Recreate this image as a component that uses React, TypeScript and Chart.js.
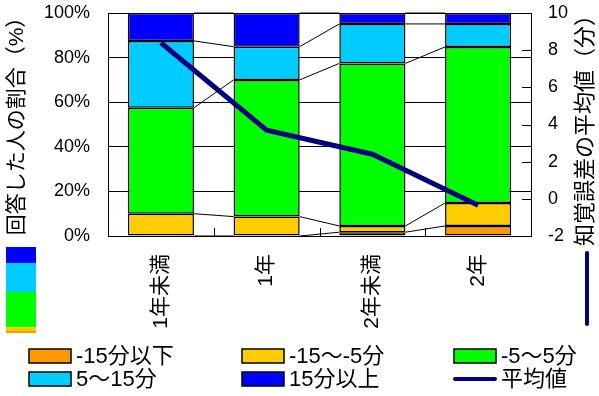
import React, { useEffect, useRef } from "react";
import { Chart, registerables } from "chart.js";

Chart.register(...registerables);

const categories = ["1年未満", "1年", "2年未満", "2年"];
const seriesNames = ["-15分以下", "-15〜-5分", "-5〜5分", "5〜15分", "15分以上"];
const lineName = "平均値";
const under15 = [0, 0, 1.7, 4.5];
const minus15to5 = [10, 8.7, 2.8, 10.3];
const minus5to5 = [47.5, 61.3, 72.9, 70];
const plus5to15 = [30, 14.9, 17.7, 10.3];
const over15 = [12.5, 15.1, 4.9, 4.9];
const meanMinutes = [8.4, 3.7, 2.4, -0.35];
const leftTickLabels = ["0%", "20%", "40%", "60%", "80%", "100%"];
const rightTickLabels = ["-2", "0", "2", "4", "6", "8", "10"];
const leftTitle = "回答した人の割合（%）";
const rightTitle = "知覚誤差の平均値（分）";

const COLORS = ["#ff9900", "#ffcc00", "#00ff00", "#00ccff", "#0000ff"];
const NAVY = "#000080";
const FONT = '"Liberation Sans", "Noto Sans CJK JP", sans-serif';

const decorPlugin = {
  id: "decor",
  beforeDatasetsDraw(chart: any) {
    const { ctx, chartArea } = chart;
    ctx.save();
    ctx.strokeStyle = "#000";
    ctx.lineWidth = 1;
    chart.data.datasets.forEach((ds: any, di: number) => {
      if (ds.type === "line") return;
      const meta = chart.getDatasetMeta(di);
      for (let j = 0; j < meta.data.length - 1; j++) {
        const a = meta.data[j];
        const b = meta.data[j + 1];
        ctx.beginPath();
        ctx.moveTo(a.x + a.width / 2, a.y);
        ctx.lineTo(b.x - b.width / 2, b.y);
        ctx.stroke();
      }
    });
    const xs = chart.scales.x;
    for (let i = 0; i < categories.length - 1; i++) {
      const px = Math.round((xs.getPixelForValue(i) + xs.getPixelForValue(i + 1)) / 2) + 0.5;
      ctx.beginPath();
      ctx.moveTo(px, chartArea.bottom);
      ctx.lineTo(px, chartArea.bottom - 8);
      ctx.stroke();
    }
    const y2 = chart.scales.y2;
    rightTickLabels.forEach((t) => {
      const py = Math.round(y2.getPixelForValue(Number(t))) + 0.5;
      ctx.beginPath();
      ctx.moveTo(chartArea.right, py);
      ctx.lineTo(chartArea.right - 9, py);
      ctx.stroke();
    });
    ctx.restore();
  },
  afterDraw(chart: any) {
    const { ctx } = chart;
    ctx.save();
    ctx.fillStyle = "#000";
    ctx.textAlign = "center";
    ctx.textBaseline = "middle";
    ctx.save();
    ctx.translate(17, 121);
    ctx.rotate(-Math.PI / 2);
    ctx.font = `21px ${FONT}`;
    ctx.fillText(leftTitle, 0, 0);
    ctx.restore();
    ctx.save();
    ctx.translate(586, 125);
    ctx.rotate(-Math.PI / 2);
    ctx.font = `22px ${FONT}`;
    ctx.fillText(rightTitle, 0, 0);
    ctx.restore();

    const blocks: [string, number, number][] = [
      [COLORS[4], 247, 263],
      [COLORS[3], 263, 292],
      [COLORS[2], 292, 327],
      [COLORS[1], 327, 331],
      [COLORS[0], 331, 333],
    ];
    blocks.forEach(([c, y0, y1]) => {
      ctx.fillStyle = c;
      ctx.fillRect(6, y0, 30, y1 - y0);
    });
    ctx.strokeStyle = NAVY;
    ctx.lineWidth = 4;
    ctx.lineCap = "round";
    ctx.beginPath();
    ctx.moveTo(587, 253);
    ctx.lineTo(587, 324);
    ctx.stroke();

    const cols = [29, 242, 454];
    const rows = [356, 379];
    const items = [
      ...seriesNames.map((n, i) => ({ label: n, color: COLORS[i], line: false })),
      { label: lineName, color: NAVY, line: true },
    ];
    ctx.font = `22px ${FONT}`;
    ctx.textAlign = "left";
    ctx.textBaseline = "middle";
    items.forEach((it, i) => {
      const x = cols[i % 3];
      const y = rows[Math.floor(i / 3)];
      if (it.line) {
        ctx.strokeStyle = it.color;
        ctx.lineWidth = 4;
        ctx.lineCap = "round";
        ctx.beginPath();
        ctx.moveTo(x + 1, y);
        ctx.lineTo(x + 41, y);
        ctx.stroke();
      } else {
        ctx.fillStyle = it.color;
        ctx.fillRect(x, y - 7, 42, 14);
        ctx.strokeStyle = "#000";
        ctx.lineWidth = 1.5;
        ctx.strokeRect(x, y - 7, 42, 14);
      }
      ctx.fillStyle = "#000";
      ctx.fillText(it.label, x + 47, y + 1);
    });
    ctx.restore();
  },
};

const zeroPad = (s: any) => {
  s.paddingTop = 0;
  s.paddingBottom = 0;
  s.paddingLeft = 0;
  s.paddingRight = 0;
};

export default function App() {
  const ref = useRef<HTMLCanvasElement | null>(null);
  useEffect(() => {
    if (!ref.current) return;
    const barData = [under15, minus15to5, minus5to5, plus5to15, over15];
    const chart = new Chart(ref.current, {
      type: "bar",
      data: {
        labels: categories,
        datasets: [
          ...barData.map((d, i) => ({
            type: "bar" as const,
            label: seriesNames[i],
            data: d,
            backgroundColor: COLORS[i],
            borderColor: "#000",
            borderWidth: 1.5,
            borderSkipped: false,
            stack: "s",
            yAxisID: "y",
            categoryPercentage: 1,
            barPercentage: 0.625,
            order: 1,
          })),
          {
            type: "line" as const,
            label: lineName,
            data: meanMinutes,
            borderColor: NAVY,
            backgroundColor: NAVY,
            borderWidth: 5,
            pointRadius: 0,
            tension: 0,
            yAxisID: "y2",
            order: 0,
          },
        ],
      },
      options: {
        responsive: false,
        animation: false,
        layout: { padding: { top: 13, left: 0, right: 0, bottom: 0 } },
        plugins: { legend: { display: false }, tooltip: { enabled: false } },
        scales: {
          x: {
            stacked: true,
            offset: true,
            grid: { display: false, drawTicks: false },
            border: { display: false },
            ticks: {
              maxRotation: 90,
              minRotation: 90,
              padding: 18,
              color: "#000",
              font: { family: FONT, size: 21 },
            },
            afterFit: (s: any) => {
              s.height = 160;
              zeroPad(s);
            },
          },
          y: {
            stacked: true,
            position: "left",
            min: 0,
            max: 100,
            ticks: {
              stepSize: 20,
              padding: 18,
              color: "#000",
              font: { family: FONT, size: 18 },
              callback: (_v: any, i: number) => leftTickLabels[i],
            },
            grid: { color: "#000", lineWidth: 1, drawTicks: false },
            border: { display: true, color: "#000", width: 1 },
            afterFit: (s: any) => {
              s.width = 108;
              zeroPad(s);
            },
          },
          y2: {
            position: "right",
            min: -2,
            max: 10,
            ticks: {
              stepSize: 2,
              padding: 17,
              color: "#000",
              font: { family: FONT, size: 18 },
              callback: (_v: any, i: number) => rightTickLabels[i],
            },
            grid: { display: false, drawTicks: false },
            border: { display: true, color: "#000", width: 1 },
            afterFit: (s: any) => {
              s.width = 68;
              zeroPad(s);
            },
          },
        },
      } as any,
      plugins: [decorPlugin],
    });
    return () => chart.destroy();
  }, []);
  return (
    <canvas
      ref={ref}
      width={599}
      height={396}
      style={{ position: "absolute", left: 0, top: 0, width: 599, height: 396, display: "block" }}
    />
  );
}
